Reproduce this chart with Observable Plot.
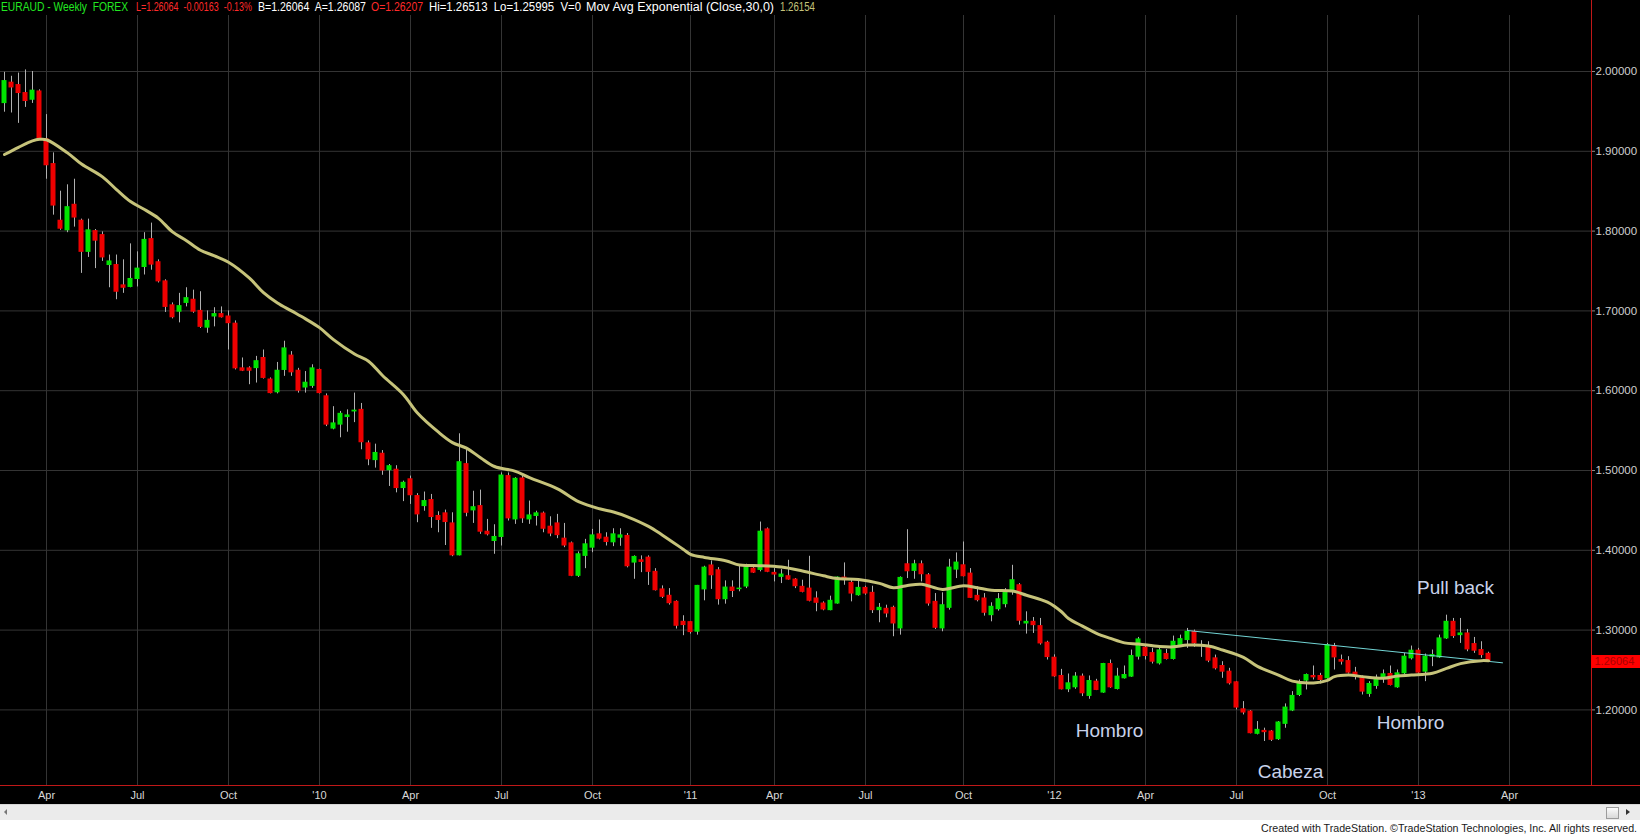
<!DOCTYPE html>
<html><head><meta charset="utf-8">
<script src="https://cdn.jsdelivr.net/npm/d3@7"></script>
<script src="https://cdn.jsdelivr.net/npm/@observablehq/plot@0.6"></script>
<style>
html,body{margin:0;padding:0;background:#fff;}
#wrap{width:1640px;height:836px;position:relative;overflow:hidden;background:#fff;font-family:"Liberation Sans",Arial,sans-serif;}
#head{position:relative;height:15px;background:#000;overflow:hidden;}
#head span{position:absolute;top:1px;font-size:12px;line-height:13px;white-space:pre;transform-origin:0 50%;}
#headline{position:absolute;left:1591px;top:0;width:1px;height:15px;background:#c01818;}
#chart{background:#000;height:789px;}
#chart svg{display:block;}
#scroll{position:relative;height:16px;background:#ebebeb;border-top:1px solid #d6d6d6;box-sizing:border-box;}
#thumb{position:absolute;left:1606px;top:2px;width:13px;height:12px;border:1px solid #9c9c9c;background:linear-gradient(#fbfbfb,#d9d9d9);box-sizing:border-box;}
#rarrow{position:absolute;left:1626px;top:4px;width:0;height:0;border-top:3.5px solid transparent;border-bottom:3.5px solid transparent;border-left:4px solid #333;}
#larrow{position:absolute;left:4px;top:4px;width:0;height:0;border-top:3.5px solid transparent;border-bottom:3.5px solid transparent;border-right:3px solid #777;}
#foot{position:relative;height:16px;background:#fff;}
#foottext{position:absolute;right:3px;top:2px;font-size:11.5px;line-height:13px;color:#1a1a1a;white-space:pre;transform-origin:100% 50%;}
</style></head><body>
<div id="wrap">
<div id="head"><div id="headline"></div></div>
<div id="chart"></div>
<div id="scroll"><div id="larrow"></div><div id="thumb"></div><div id="rarrow"></div></div>
<div id="foot"><span id="foottext">Created with TradeStation. ©TradeStation Technologies, Inc. All rights reserved.</span></div>
</div>
<script>
// ---- data (weekly bars, EURAUD) ----
const firstBar = "2009-02-20";
const opens = [
1.9604,1.9860,1.9830,1.9730,1.9646,1.9750,1.9150,1.8840,1.8130,1.8010,
1.8330,1.8130,1.7740,1.8000,1.7950,1.7575,1.7575,1.7320,1.7300,1.7400,
1.7550,1.7900,1.7610,1.7370,1.7070,1.6990,1.7100,1.7140,1.7000,1.6790,
1.6930,1.6960,1.6930,1.6840,1.6280,1.6280,1.6283,1.6410,1.6140,1.5980,
1.6260,1.6440,1.6250,1.6040,1.6060,1.6260,1.5930,1.5525,1.5575,1.5670,
1.5740,1.5760,1.5340,1.5130,1.5210,1.5004,1.5010,1.4780,1.4890,1.4680,
1.4554,1.4630,1.4430,1.4463,1.4337,1.3937,1.5080,1.4500,1.4554,1.4233,
1.4117,1.4167,1.4930,1.4387,1.4900,1.4387,1.4430,1.4460,1.4296,1.4337,
1.4146,1.4087,1.3680,1.3930,1.4033,1.4200,1.4158,1.4100,1.4158,1.4180,
1.3846,1.3875,1.3908,1.3730,1.3510,1.3430,1.3354,1.3104,1.3100,1.2980,
1.3510,1.3810,1.3750,1.3387,1.3533,1.3513,1.3546,1.3770,1.3754,1.4262,
1.3717,1.3667,1.3675,1.3633,1.3542,1.3520,1.3396,1.3333,1.3250,1.3333,
1.3658,1.3592,1.3437,1.3529,1.3467,1.3250,1.3267,1.3279,1.3021,1.3825,
1.3742,1.3825,1.3687,1.3354,1.3021,1.3279,1.3758,1.3812,1.3708,1.3429,
1.3396,1.3187,1.3262,1.3325,1.3479,1.3562,1.3083,1.3104,1.3050,1.2842,
1.2654,1.2425,1.2258,1.2283,1.2417,1.2175,1.2354,1.2217,1.2575,1.2262,
1.2396,1.2417,1.2667,1.2779,1.2712,1.2583,1.2700,1.2638,1.2804,1.2875,
1.2979,1.2812,1.2800,1.2646,1.2550,1.2479,1.2346,1.2008,1.1979,1.1700,
1.1737,1.1729,1.1633,1.1825,1.1992,1.2187,1.2367,1.2425,1.2425,1.2396,
1.2800,1.2625,1.2612,1.2467,1.2396,1.2200,1.2300,1.2408,1.2450,1.2283,
1.2458,1.2646,1.2742,1.2479,1.2667,1.2658,1.2896,1.3104,1.2937,1.2958,
1.2825,1.2750,1.2703];
const highs = [
1.9990,1.9940,1.9980,2.0020,2.0000,1.9770,1.9460,1.8980,1.8500,1.8580,
1.8650,1.8150,1.8150,1.8020,1.7990,1.7700,1.7700,1.7640,1.7840,1.7740,
1.7980,1.8100,1.7640,1.7390,1.7100,1.7220,1.7290,1.7260,1.7240,1.7000,
1.7040,1.7050,1.7000,1.6875,1.6410,1.6300,1.6430,1.6510,1.6160,1.6354,
1.6620,1.6490,1.6280,1.6240,1.6325,1.6270,1.5960,1.5800,1.5740,1.5760,
1.5970,1.5840,1.5370,1.5330,1.5250,1.5075,1.5060,1.4867,1.4930,1.4710,
1.4730,1.4700,1.4483,1.4504,1.4470,1.5460,1.5260,1.4740,1.4754,1.4387,
1.4320,1.4970,1.4970,1.4910,1.4930,1.4617,1.4490,1.4480,1.4420,1.4450,
1.4337,1.4104,1.3980,1.4137,1.4262,1.4380,1.4220,1.4270,1.4270,1.4210,
1.3930,1.3930,1.3930,1.3770,1.3554,1.3520,1.3367,1.3180,1.3104,1.3560,
1.3800,1.3867,1.3783,1.3617,1.3617,1.3800,1.3825,1.3800,1.4354,1.4280,
1.3770,1.3758,1.3875,1.3646,1.3625,1.3925,1.3480,1.3354,1.3425,1.3667,
1.3842,1.3625,1.3612,1.3550,1.3550,1.3333,1.3312,1.3300,1.3667,1.4258,
1.3875,1.3867,1.3708,1.3458,1.3467,1.3887,1.3967,1.4104,1.3771,1.3542,
1.3458,1.3342,1.3458,1.3520,1.3812,1.3583,1.3229,1.3158,1.3146,1.2860,
1.2690,1.2508,1.2450,1.2467,1.2450,1.2425,1.2383,1.2583,1.2625,1.2521,
1.2550,1.2750,1.2908,1.2800,1.2771,1.2790,1.2758,1.2925,1.2937,1.3021,
1.3000,1.2867,1.2854,1.2687,1.2604,1.2521,1.2354,1.2104,1.1992,1.1854,
1.1771,1.1742,1.1854,1.2075,1.2229,1.2375,1.2450,1.2550,1.2458,1.2833,
1.2833,1.2687,1.2667,1.2533,1.2425,1.2354,1.2437,1.2500,1.2550,1.2500,
1.2708,1.2800,1.2771,1.2700,1.2750,1.2937,1.3187,1.3146,1.3146,1.3008,
1.2908,1.2854,1.2723];
const lows = [
1.9490,1.9480,1.9350,1.9550,1.9600,1.9140,1.8650,1.8200,1.8010,1.7980,
1.8050,1.7470,1.7670,1.7530,1.7620,1.7290,1.7140,1.7220,1.7290,1.7300,
1.7450,1.7510,1.7350,1.6980,1.6900,1.6850,1.7050,1.6970,1.6780,1.6720,
1.6800,1.6910,1.6510,1.6260,1.6240,1.6075,1.6096,1.6146,1.5960,1.5960,
1.6180,1.6180,1.5970,1.5970,1.6030,1.5960,1.5550,1.5510,1.5410,1.5480,
1.5600,1.5260,1.5060,1.5030,1.4940,1.4800,1.4720,1.4610,1.4575,1.4346,
1.4490,1.4275,1.4220,1.4060,1.3920,1.3930,1.4420,1.4337,1.4200,1.4180,
1.3950,1.4054,1.4367,1.4325,1.4337,1.4325,1.4304,1.4220,1.4170,1.4146,
1.4033,1.3670,1.3660,1.3770,1.3970,1.4130,1.4054,1.4046,1.4050,1.3780,
1.3637,1.3720,1.3560,1.3490,1.3396,1.3313,1.3013,1.2930,1.2950,1.2937,
1.3367,1.3510,1.3313,1.3325,1.3408,1.3480,1.3520,1.3710,1.3730,1.3720,
1.3604,1.3583,1.3625,1.3520,1.3467,1.3354,1.3230,1.3242,1.3242,1.3325,
1.3562,1.3354,1.3425,1.3437,1.3208,1.3092,1.3154,1.2917,1.2937,1.3646,
1.3637,1.3604,1.3300,1.3008,1.2979,1.3250,1.3646,1.3667,1.3396,1.3354,
1.3175,1.3104,1.3237,1.3279,1.3437,1.3062,1.2950,1.2958,1.2812,1.2625,
1.2408,1.2250,1.2217,1.2258,1.2167,1.2133,1.2242,1.2208,1.2270,1.2250,
1.2387,1.2408,1.2625,1.2625,1.2575,1.2562,1.2625,1.2625,1.2783,1.2771,
1.2783,1.2658,1.2592,1.2500,1.2396,1.2312,1.2000,1.1937,1.1700,1.1687,
1.1604,1.1604,1.1617,1.1770,1.1979,1.2167,1.2250,1.2375,1.2325,1.2383,
1.2500,1.2562,1.2450,1.2375,1.2187,1.2158,1.2258,1.2333,1.2300,1.2271,
1.2437,1.2625,1.2450,1.2354,1.2542,1.2646,1.2883,1.2896,1.2833,1.2729,
1.2708,1.2646,1.25995];
const closes = [
1.9880,1.9800,1.9730,1.9630,1.9760,1.9150,1.8825,1.8320,1.8030,1.8300,
1.8170,1.7740,1.8010,1.7880,1.7670,1.7620,1.7240,1.7290,1.7400,1.7530,
1.7890,1.7580,1.7370,1.7050,1.6920,1.7060,1.7160,1.6990,1.6800,1.6875,
1.6960,1.6920,1.6846,1.6280,1.6250,1.6250,1.6370,1.6160,1.5970,1.6250,
1.6530,1.6230,1.6000,1.6100,1.6280,1.5970,1.5575,1.5590,1.5710,1.5690,
1.5750,1.5354,1.5140,1.5220,1.5000,1.5054,1.4780,1.4846,1.4690,1.4450,
1.4617,1.4417,1.4380,1.4354,1.3937,1.5104,1.4470,1.4540,1.4233,1.4200,
1.4167,1.4937,1.4400,1.4896,1.4400,1.4437,1.4463,1.4270,1.4210,1.4190,
1.4060,1.3680,1.3950,1.4075,1.4187,1.4146,1.4104,1.4200,1.4187,1.3800,
1.3917,1.3854,1.3730,1.3500,1.3417,1.3337,1.3054,1.3063,1.2975,1.3554,
1.3783,1.3687,1.3387,1.3533,1.3490,1.3520,1.3804,1.3720,1.4233,1.3730,
1.3696,1.3696,1.3633,1.3550,1.3479,1.3367,1.3342,1.3258,1.3367,1.3658,
1.3633,1.3458,1.3529,1.3458,1.3250,1.3279,1.3208,1.3083,1.3654,1.3737,
1.3825,1.3700,1.3333,1.3029,1.3312,1.3783,1.3846,1.3675,1.3404,1.3375,
1.3217,1.3292,1.3387,1.3487,1.3625,1.3117,1.3104,1.3062,1.2833,1.2662,
1.2420,1.2258,1.2333,1.2417,1.2208,1.2362,1.2250,1.2575,1.2283,1.2417,
1.2437,1.2675,1.2883,1.2675,1.2604,1.2746,1.2638,1.2854,1.2887,1.2979,
1.2833,1.2806,1.2617,1.2521,1.2479,1.2333,1.2029,1.1967,1.1708,1.1750,
1.1721,1.1625,1.1842,1.2029,1.2175,1.2346,1.2437,1.2408,1.2375,1.2812,
1.2658,1.2604,1.2467,1.2437,1.2229,1.2325,1.2387,1.2446,1.2312,1.2458,
1.2667,1.2742,1.2467,1.2667,1.2687,1.2896,1.3104,1.2925,1.2958,1.2758,
1.2742,1.2687,1.26064];

// 30-week exponential moving average at these bars
const maBars = [1,3,5,6,7,10,12,15,17,19,21,23,25,27,29,31,33,36,38,40,42,44,46,48,51,53,55,58,60,63,65,67,69,71,74,76,80,83,86,88,90,93,95,98,99,101,104,106,108,112,115,118,120,123,126,128,130,132,135,138,140,142,145,147,150,152,153,155,157,159,161,163,166,168,170,173,175,178,180,183,185,188,190,191,193,195,198,200,202,205,207,209,212,213];
const maValues = [1.896,1.905,1.913,1.915,1.9145,1.898,1.884,1.868,1.852,1.837,1.827,1.816,1.799,1.788,1.776,1.769,1.761,1.741,1.723,1.710,1.700,1.690,1.679,1.664,1.646,1.637,1.619,1.595,1.572,1.548,1.535,1.528,1.516,1.505,1.499,1.491,1.477,1.461,1.452,1.448,1.442,1.430,1.419,1.401,1.395,1.391,1.387,1.3815,1.381,1.379,1.374,1.368,1.3646,1.3635,1.3585,1.353,1.356,1.3575,1.351,1.3555,1.353,1.350,1.349,1.3437,1.335,1.323,1.3146,1.305,1.296,1.2896,1.284,1.2825,1.2795,1.279,1.2812,1.28,1.275,1.2658,1.2545,1.2437,1.236,1.2338,1.237,1.2417,1.2437,1.2417,1.2396,1.2425,1.2437,1.246,1.252,1.258,1.2617,1.26154];

// neckline
const trendDates = ["2012-05-18","2013-03-29"];
const trendValues = [1.2995,1.2590];

// annotations
const noteTexts = ["Hombro","Cabeza","Hombro","Pull back"];
const noteDates = ["2012-03-01","2012-08-29","2012-12-27","2013-02-10"];
const notePrices = [1.1742,1.1219,1.1833,1.3530];

// axis ticks
const xTickDates = ["2009-04-03","2009-07-03","2009-10-02","2010-01-01","2010-04-02","2010-07-02","2010-10-01","2011-01-07","2011-04-01","2011-07-01","2011-10-07","2012-01-06","2012-04-06","2012-07-06","2012-10-05","2013-01-04","2013-04-05"];
const yTicks = [1.2,1.3,1.4,1.5,1.6,1.7,1.8,1.9,2.0];
const lastPrice = 1.26064;

// header status line
const headTexts = ["EURAUD - Weekly  FOREX","L=1.26064  -0.00163  -0.13%","B=1.26064  A=1.26087","O=1.26207","Hi=1.26513  Lo=1.25995  V=0","Mov Avg Exponential (Close,30,0)","1.26154"];
const headColors = ["#22e822","#ff2a2a","#ffffff","#ff2a2a","#ffffff","#ffffff","#c4c27a"];
const headX = [1,136,258,371,429,586,780];
const headW = [127,116,108,52,152,188,35];

// ---- header ----
const head = document.getElementById("head");
headTexts.forEach((t, i) => {
  const s = document.createElement("span");
  s.textContent = t;
  s.style.left = headX[i] + "px";
  s.style.color = headColors[i];
  head.appendChild(s);
  const w = s.getBoundingClientRect().width;
  s.style.transform = "scaleX(" + (headW[i] / w) + ")";
});
const ft = document.getElementById("foottext");
ft.style.transform = "scaleX(" + (376 / ft.getBoundingClientRect().width) + ")";

// ---- build ----
const pd = s => new Date(s + "T00:00:00Z");
const start = pd(firstBar);
const bars = opens.map((o, i) => {
  const date = d3.utcDay.offset(start, 7 * i);
  return {date, open: o, high: highs[i], low: lows[i], close: closes[i],
          x1: d3.utcHour.offset(date, -60), x2: d3.utcHour.offset(date, 60),
          color: closes[i] >= o ? "#00e400" : "#ee0000"};
});
const ma = maBars.map((b, i) => ({date: bars[b - 1].date, value: maValues[i]}));
const trend = trendDates.map((d, i) => ({date: pd(d), value: trendValues[i]}));
const notes = noteTexts.map((t, i) => ({text: t, date: pd(noteDates[i]), price: notePrices[i]}));
const xTicks = xTickDates.map(pd);

const W = 1640, H = 789, mR = 49, mB = 19;
const xMin = pd("2009-02-16"), xMax = pd("2013-06-26"), xFar = pd("2013-08-15");
const yMin = 1.10526, yMax = 2.07018;
const fmtX = d => d.getUTCMonth() === 0 ? "'" + String(d.getUTCFullYear()).slice(2) : d3.utcFormat("%b")(d);

const chart = Plot.plot({
  width: W, height: H,
  marginTop: 0, marginLeft: 0, marginRight: mR, marginBottom: mB,
  style: {background: "#000", color: "#d0d0d0", fontFamily: "Liberation Sans, Arial, sans-serif", fontSize: "11px", overflow: "visible"},
  x: {type: "utc", domain: [xMin, xMax]},
  y: {domain: [yMin, yMax]},
  color: {type: "identity"},
  marks: [
    Plot.gridX(xTicks, {stroke: "#343434", strokeOpacity: 1}),
    Plot.gridY(yTicks, {stroke: "#343434", strokeOpacity: 1}),
    Plot.ruleX(bars, {x: "date", y1: "low", y2: "high", stroke: "#b0b0b0"}),
    Plot.rect(bars, {x1: "x1", x2: "x2", y1: "open", y2: "close", fill: "color", insetTop: -0.5, insetBottom: -0.5}),
    Plot.line(trend, {x: "date", y: "value", stroke: "#72d4d4", strokeWidth: 1}),
    Plot.line(ma, {x: "date", y: "value", stroke: "#c6c37a", strokeWidth: 3, curve: "catmull-rom"}),
    Plot.text(notes, {x: "date", y: "price", text: "text", fill: "#c8d2ea", fontSize: 19}),
    Plot.ruleX([xMax], {stroke: "#c01818"}),
    Plot.ruleY([{y: yMin, a: xMin, b: xFar}], {y: "y", x1: "a", x2: "b", stroke: "#c01818"}),
    Plot.ruleY([{y: lastPrice, a: xMax, b: xFar}], {y: "y", x1: "a", x2: "b", stroke: "#ff0000", strokeWidth: 13}),
    Plot.text([lastPrice], {x: xMax, y: d => d, text: d => d.toFixed(5), textAnchor: "start", dx: 3, fill: "#a80000", fontSize: 11}),
    Plot.axisY(yTicks, {anchor: "right", tickFormat: d => d.toFixed(5), tickSize: 3, tickPadding: 1, stroke: "#8a8a8a", fill: "#cfcfcf", fontSize: 11.5, label: null}),
    Plot.axisX(xTicks, {tickFormat: fmtX, tickSize: 0, tickPadding: 6, fill: "#d8d8d8", fontSize: 11, label: null})
  ]
});
document.getElementById("chart").appendChild(chart);
</script>
</body></html>
